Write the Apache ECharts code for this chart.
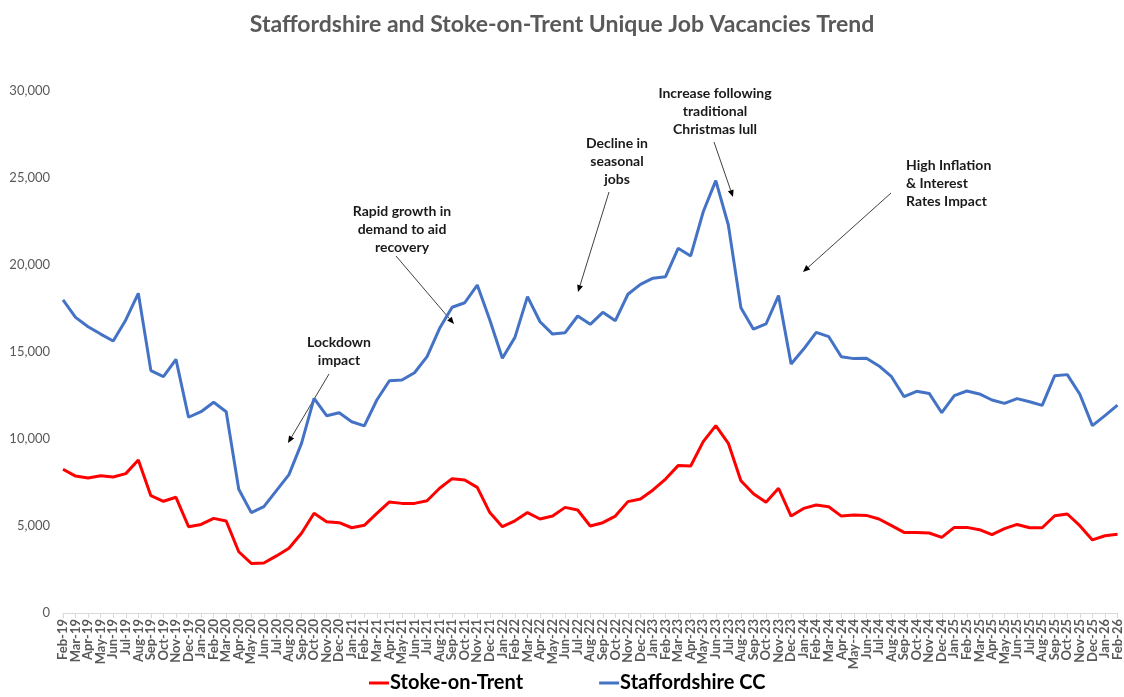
<!DOCTYPE html>
<html>
<head>
<meta charset="utf-8">
<script src="https://cdn.jsdelivr.net/npm/echarts@6/dist/echarts.min.js"></script>
<style>
html,body{margin:0;padding:0;background:#fff;}
#chart{width:1124px;height:697px;}
</style>
</head>
<body>
<div id="chart"></div>
<script>
const categories = [
 'Feb-19','Mar-19','Apr-19','May-19','Jun-19','Jul-19','Aug-19','Sep-19','Oct-19','Nov-19','Dec-19',
 'Jan-20','Feb-20','Mar-20','Apr-20','May-20','Jun-20','Jul-20','Aug-20','Sep-20','Oct-20','Nov-20','Dec-20',
 'Jan-21','Feb-21','Mar-21','Apr-21','May-21','Jun-21','Jul-21','Aug-21','Sep-21','Oct-21','Nov-21','Dec-21',
 'Jan-22','Feb-22','Mar-22','Apr-22','May-22','Jun-22','Jul-22','Aug-22','Sep-22','Oct-22','Nov-22','Dec-22',
 'Jan-23','Feb-23','Mar-23','Apr-23','May-23','Jun-23','Jul-23','Aug-23','Sep-23','Oct-23','Nov-23','Dec-23',
 'Jan-24','Feb-24','Mar-24','Apr-24','May--24','Jun-24','Jul-24','Aug-24','Sep-24','Oct-24','Nov-24','Dec-24',
 'Jan-25','Feb-25','Mar-25','Apr-25','May-25','Jun-25','Jul-25','Aug-25','Sep-25','Oct-25','Nov-25','Dec-25',
 'Jan-26','Feb-26'
];

const stokeOnTrent = [
 8260,7870,7760,7890,7820,8010,8790,6740,6420,6650,4960,
 5090,5440,5290,3520,2850,2870,3280,3720,4580,5730,5250,5190,
 4900,5040,5730,6380,6300,6300,6450,7170,7720,7640,7220,5770,
 4960,5300,5770,5400,5570,6070,5920,5000,5190,5570,6400,6550,
 7070,7700,8470,8450,9850,10770,9750,7600,6850,6360,7170,5570,
 6010,6210,6110,5570,5630,5610,5400,5020,4630,4630,4600,4350,
 4920,4920,4790,4500,4850,5090,4900,4900,5590,5690,5020,4200,
 4440,4520
];

const staffordshireCC = [
 17990,16990,16450,16030,15630,16840,18370,13930,13580,14580,11250,
 11570,12110,11570,7110,5770,6110,7030,7950,9750,12340,11340,11510,
 10990,10750,12240,13350,13390,13810,14730,16360,17570,17830,18850,16840,
 14640,15840,18180,16740,16030,16110,17070,16590,17280,16800,18320,18890,
 19240,19330,20960,20520,23060,24850,22300,17550,16310,16610,18240,14310,
 15170,16130,15880,14730,14620,14640,14200,13580,12430,12740,12620,11510,
 12490,12760,12590,12240,12050,12320,12140,11930,13640,13700,12570,10770,
 11340,11950
];

const yTicks = [0, 5000, 10000, 15000, 20000, 25000, 30000];

const annotationTexts = [
 'Lockdown\nimpact',
 'Rapid growth in\ndemand to aid\nrecovery',
 'Decline in\nseasonal\njobs',
 'Increase following\ntraditional\nChristmas lull',
 'High Inflation\n& Interest\nRates Impact'
];

const chart = echarts.init(document.getElementById('chart'));
const FONT = 'Lato, "Open Sans", sans-serif';

const annoPos = [
 {x: 339, y: 333, align: 'center'},
 {x: 402, y: 202, align: 'center'},
 {x: 617, y: 134, align: 'center'},
 {x: 715, y: 84, align: 'center'},
 {x: 906, y: 156, align: 'left'}
];
const arrows = [
 [[329, 374], [288, 443]],
 [[396, 256], [454, 324]],
 [[609, 192], [578, 292]],
 [[714, 142], [733, 197]],
 [[891, 193], [803, 272]]
];

function arrowGraphics(a) {
  const [x1, y1] = a[0], [x2, y2] = a[1];
  const dx = x2 - x1, dy = y2 - y1;
  const len = Math.sqrt(dx * dx + dy * dy);
  const ux = dx / len, uy = dy / len;
  const hl = 7, hw = 3;
  const bx = x2 - ux * hl, by = y2 - uy * hl;
  return [
    {type: 'line', silent: true, shape: {x1, y1, x2: bx, y2: by}, style: {stroke: '#404040', lineWidth: 1}},
    {type: 'polygon', silent: true, shape: {points: [[x2, y2], [bx - uy * hw, by + ux * hw], [bx + uy * hw, by - ux * hw]]}, style: {fill: '#000000'}}
  ];
}

const graphics = [];
annotationTexts.forEach((t, i) => {
  graphics.push({
    type: 'text',
    x: annoPos[i].x,
    y: annoPos[i].y,
    silent: true,
    style: {
      text: t,
      fill: '#1a1a1a',
      font: 'bold 14px ' + FONT,
      align: annoPos[i].align,
      verticalAlign: 'top',
      lineHeight: 18
    }
  });
});
arrows.forEach(a => graphics.push(...arrowGraphics(a)));

const option = {
  backgroundColor: '#ffffff',
  animation: false,
  textStyle: {fontFamily: FONT},
  title: {
    text: 'Staffordshire and Stoke-on-Trent Unique Job Vacancies Trend',
    left: 'center',
    top: 8,
    textStyle: {fontFamily: FONT, fontSize: 23, fontWeight: 'bold', color: '#595959'}
  },
  legend: {
    bottom: -1,
    left: 364,
    itemGap: 76,
    itemWidth: 20,
    itemHeight: 3,
    icon: 'rect',
    textStyle: {fontFamily: FONT, fontSize: 20, fontWeight: 'bold', color: '#000000', padding: [0,0,0,-4]},
    data: ['Stoke-on-Trent', 'Staffordshire CC']
  },
  grid: {left: 63, right: 6, top: 91, bottom: 84, containLabel: false},
  xAxis: {
    type: 'category',
    data: categories,
    boundaryGap: false,
    axisLine: {lineStyle: {color: '#d9d9d9', width: 1}},
    axisTick: {show: true, length: 5, alignWithLabel: true, lineStyle: {color: '#d9d9d9'}},
    axisLabel: {rotate: 90, interval: 0, fontSize: 13, fontWeight: 'bold', color: '#595959', margin: 6, fontFamily: FONT}
  },
  yAxis: {
    type: 'value',
    min: yTicks[0],
    max: yTicks[yTicks.length - 1],
    interval: 5000,
    axisLine: {show: false},
    axisTick: {show: false},
    splitLine: {show: false},
    axisLabel: {
      fontSize: 13, color: '#595959', margin: 13, fontFamily: FONT,
      formatter: v => v.toLocaleString('en-GB')
    }
  },
  series: [
    {
      name: 'Stoke-on-Trent',
      type: 'line',
      data: stokeOnTrent,
      showSymbol: false,
      symbol: 'none',
      lineStyle: {color: '#FF0000', width: 3},
      itemStyle: {color: '#FF0000'}
    },
    {
      name: 'Staffordshire CC',
      type: 'line',
      data: staffordshireCC,
      showSymbol: false,
      symbol: 'none',
      lineStyle: {color: '#4472C4', width: 3},
      itemStyle: {color: '#4472C4'}
    }
  ],
  graphic: graphics
};

chart.setOption(option);
</script>
</body>
</html>
